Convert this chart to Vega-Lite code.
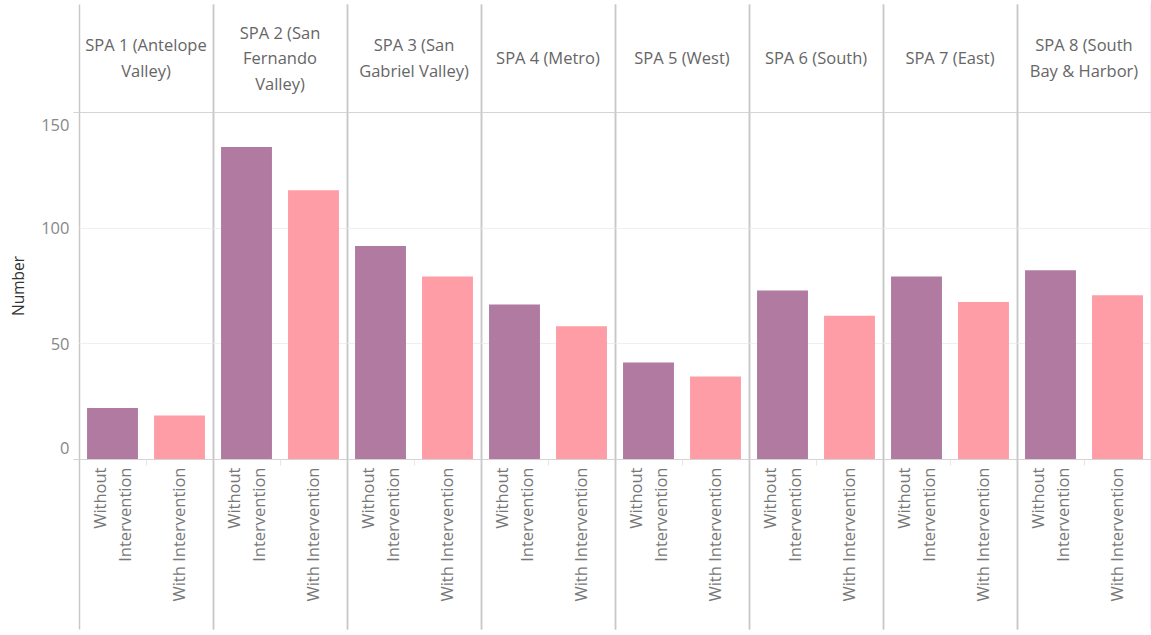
{
  "$schema": "https://vega.github.io/schema/vega-lite/v6.json",
  "padding": {"left": 11, "top": 3, "right": 0, "bottom": 0},
  "background": "white",
  "config": {
    "font": "Open Sans",
    "view": {"stroke": null},
    "axis": {"labelFont": "Open Sans", "titleFont": "Open Sans"}
  },
  "data": {
    "values": [
      {"spa": "SPA 1 (Antelope Valley)", "group": "Without Intervention", "value": 22.0},
      {"spa": "SPA 1 (Antelope Valley)", "group": "With Intervention", "value": 18.8},
      {"spa": "SPA 2 (San Fernando Valley)", "group": "Without Intervention", "value": 134.9},
      {"spa": "SPA 2 (San Fernando Valley)", "group": "With Intervention", "value": 116.2},
      {"spa": "SPA 3 (San Gabriel Valley)", "group": "Without Intervention", "value": 92.1},
      {"spa": "SPA 3 (San Gabriel Valley)", "group": "With Intervention", "value": 78.9},
      {"spa": "SPA 4 (Metro)", "group": "Without Intervention", "value": 66.8},
      {"spa": "SPA 4 (Metro)", "group": "With Intervention", "value": 57.4},
      {"spa": "SPA 5 (West)", "group": "Without Intervention", "value": 41.7},
      {"spa": "SPA 5 (West)", "group": "With Intervention", "value": 35.7},
      {"spa": "SPA 6 (South)", "group": "Without Intervention", "value": 72.8},
      {"spa": "SPA 6 (South)", "group": "With Intervention", "value": 61.9},
      {"spa": "SPA 7 (East)", "group": "Without Intervention", "value": 78.9},
      {"spa": "SPA 7 (East)", "group": "With Intervention", "value": 67.9},
      {"spa": "SPA 8 (South Bay & Harbor)", "group": "Without Intervention", "value": 81.6},
      {"spa": "SPA 8 (South Bay & Harbor)", "group": "With Intervention", "value": 70.8}
    ]
  },
  "bounds": "flush",
  "spacing": 0,
  "resolve": {"axis": {"x": "independent"}},
  "facet": {
    "column": {
      "field": "spa",
      "type": "nominal",
      "title": null,
      "sort": ["SPA 1 (Antelope Valley)", "SPA 2 (San Fernando Valley)", "SPA 3 (San Gabriel Valley)", "SPA 4 (Metro)", "SPA 5 (West)", "SPA 6 (South)", "SPA 7 (East)", "SPA 8 (South Bay & Harbor)"],
      "header": {
        "labelExpr": "datum.value === 'SPA 1 (Antelope Valley)' ? ['SPA 1 (Antelope', '\u200b', 'Valley)', '\u200b'] : datum.value === 'SPA 2 (San Fernando Valley)' ? ['SPA 2 (San', '\u200b', 'Fernando', '\u200b', 'Valley)'] : datum.value === 'SPA 3 (San Gabriel Valley)' ? ['SPA 3 (San', '\u200b', 'Gabriel Valley)', '\u200b'] : datum.value === 'SPA 8 (South Bay & Harbor)' ? ['SPA 8 (South', '\u200b', 'Bay & Harbor)', '\u200b'] : [datum.value, '\u200b', '\u200b']",
        "labelFont": "Open Sans",
        "labelFontSize": 16.5,
        "labelColor": "#666666",
        "labelLineHeight": 12.75,
        "labelPadding": 19
      }
    }
  },
  "spec": {
    "width": 134,
    "height": 347,
    "layer": [
      {
        "mark": {"type": "bar", "width": {"band": 0.76}},
        "encoding": {
          "x": {
            "field": "group",
            "type": "nominal",
            "sort": ["Without Intervention", "With Intervention"],
            "scale": {"paddingInner": 0, "paddingOuter": 0},
            "title": null,
            "axis": {
              "orient": "bottom",
              "domain": false,
              "tickBand": "extent",
              "tickSize": {"condition": {"test": "datum.value === 'Without Intervention'", "value": 6}, "value": 170},
              "tickColor": {"condition": {"test": "datum.value === 'Without Intervention'", "value": "#e6e6e6"}, "value": "#c8c8c8"},
              "tickWidth": {"condition": {"test": "datum.value === 'Without Intervention'", "value": 1}, "value": 1.5},
              "grid": true,
              "gridColor": {"condition": {"test": "datum.value === 'Without Intervention'", "value": "transparent"}, "value": "#c8c8c8"},
              "gridWidth": 1.5,
              "labelAngle": -90,
              "labelPadding": {"condition": {"test": "datum.value === 'Without Intervention'", "value": 2}, "value": -162},
              "labelOffset": {"condition": {"test": "datum.value === 'Without Intervention'", "value": -12.5}, "value": 0},
              "labelFontSize": 16.5,
              "labelColor": "#777777",
              "labelLineHeight": 25,
              "labelExpr": "datum.value === 'Without Intervention' ? ['Without', 'Intervention'] : datum.value"
            }
          },
          "y": {
            "field": "value",
            "type": "quantitative",
            "title": "Number",
            "scale": {"domain": [0, 150], "nice": false},
            "axis": {
              "values": [0, 50, 100, 150],
              "domain": false,
              "tickSize": 6,
              "tickColor": {"condition": {"test": "datum.value === 0 || datum.value === 150", "value": "#d4d4d4"}, "value": "transparent"},
              "gridColor": {"condition": {"test": "datum.value === 0 || datum.value === 150", "value": "#d4d4d4"}, "value": "#efefef"},
              "labelFontSize": 16.5,
              "labelColor": "#888888",
              "labelPadding": 4,
              "labelOffset": {"condition": [{"test": "datum.value === 150", "value": 13}, {"test": "datum.value === 0", "value": -11}], "value": 1},
              "titleFontSize": 15.5,
              "titleFontWeight": "normal",
              "titleColor": "#333333",
              "titlePadding": 14
            }
          },
          "color": {
            "field": "group",
            "type": "nominal",
            "scale": {"domain": ["Without Intervention", "With Intervention"], "range": ["#b07aa1", "#ff9da7"]},
            "legend": null
          }
        }
      },
      {
        "mark": {"type": "bar", "opacity": 0, "width": {"band": 0.76}},
        "encoding": {
          "x": {
            "field": "group",
            "type": "nominal",
            "sort": ["Without Intervention", "With Intervention"],
            "title": null,
            "axis": {
              "orient": "top",
              "domain": false,
              "labels": false,
              "grid": false,
              "tickBand": "extent",
              "tickSize": 108,
              "tickWidth": 1.5,
              "tickColor": {"condition": {"test": "datum.value === 'Without Intervention'", "value": "transparent"}, "value": "#c8c8c8"}
            }
          },
          "y": {"field": "value", "type": "quantitative", "scale": {"domain": [0, 150], "nice": false}}
        }
      }
    ]
  }
}
